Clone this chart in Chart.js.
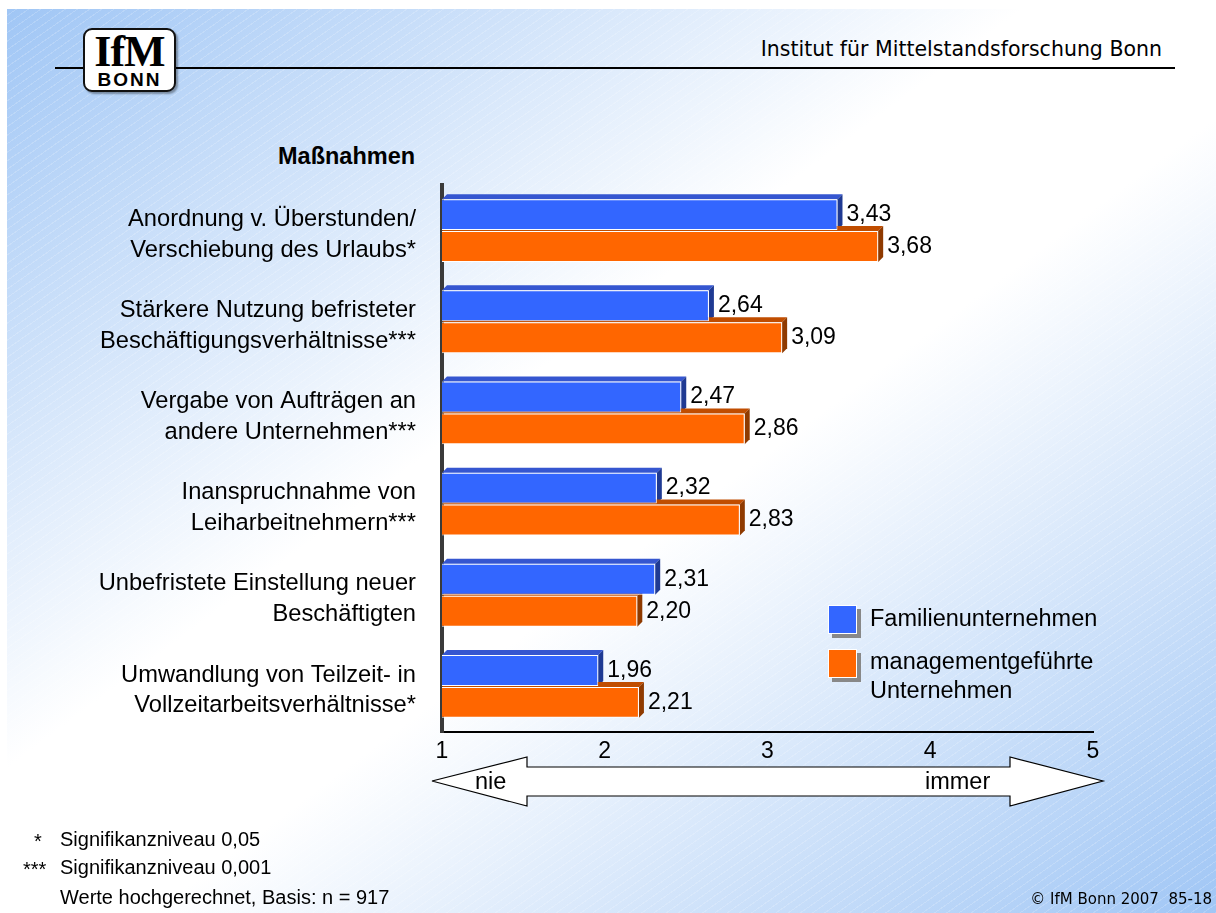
<!DOCTYPE html>
<html lang="de">
<head>
<meta charset="utf-8">
<title>Maßnahmen – Familienunternehmen vs. managementgeführte Unternehmen</title>
<script src="https://cdn.jsdelivr.net/npm/chart.js@4.4.1/dist/chart.umd.min.js"></script>
<style>
  html, body { margin: 0; padding: 0; background: #fff; }
  body { width: 1216px; height: 913px; position: relative; overflow: hidden;
         font-family: "Liberation Sans", Arial, sans-serif; color: #000; }
  #slide { position: absolute; left: 7px; top: 9px; right: 0; bottom: 0;
           background:
             repeating-linear-gradient(-35deg, rgba(255,255,255,0.18) 0 1px, rgba(255,255,255,0) 1px 7px),
             linear-gradient(to bottom right, #a0c6f5 0%, #ffffff 42%, #ffffff 56%, #a0c6f5 100%); }
  #chartBox { position: absolute; left: 0; top: 0; width: 1216px; height: 913px; }
  .abs { position: absolute; white-space: nowrap; }
  #rule { position: absolute; left: 55px; top: 67px; width: 1120px; height: 2px; background: #000; }
  #logo { position: absolute; left: 83px; top: 28px; width: 89px; height: 60px; background: #fff;
          border: 2px solid #111; border-radius: 9px; box-shadow: 2px 2px 2px rgba(0,0,0,0.35); text-align: center; }
  #logo .ifm { font-family: "Liberation Serif", "DejaVu Serif", serif; font-size: 44px; font-weight: bold;
               line-height: 38px; margin-top: 3px; letter-spacing: -1px; }
  #logo .bonn { font-family: "Liberation Sans", sans-serif; font-size: 19px; font-weight: bold; line-height: 18px; letter-spacing: 2px; }
  .verd { font-family: "DejaVu Sans", Verdana, sans-serif; }
  .sq { position: absolute; width: 27px; height: 27px; border: 1px solid #fff; box-shadow: 4px 4px 0 #888; }
  .lbl { font-size: 23.5px; }
  .note { font-size: 20px; }
</style>
</head>
<body>
<div id="slide"></div>
<div id="rule"></div>
<div id="logo"><div class="ifm">IfM</div><div class="bonn">BONN</div></div>
<div class="abs verd" style="right:54px; top:37px; font-size:20.5px;">Institut für Mittelstandsforschung Bonn</div>
<div class="abs" style="left:278px; top:143px; font-size:23.5px; font-weight:bold;">Maßnahmen</div>

<div id="chartBox"><canvas id="barChart"></canvas></div>

<svg class="abs" style="left:0; top:0;" width="1216" height="913">
  <polygon points="432,781 527,757 527,767 1010,767 1010,757 1103,781 1010,806 1010,796 527,796 527,806"
           fill="#fff" stroke="#000" stroke-width="1.2"/>
</svg>
<div class="abs lbl" style="left:475px; top:768px;">nie</div>
<div class="abs lbl" style="left:925px; top:768px;">immer</div>

<div class="sq" style="left:828px; top:605px; background:#3366ff;"></div>
<div class="abs lbl" style="left:870px; top:605px;">Familienunternehmen</div>
<div class="sq" style="left:828px; top:649px; background:#ff6600;"></div>
<div class="abs lbl" style="left:870px; top:647px; line-height:29px;">managementgeführte<br>Unternehmen</div>

<div class="abs note" style="left:34px; top:830px;">*</div>
<div class="abs note" style="left:60px; top:828px;">Signifikanzniveau 0,05</div>
<div class="abs note" style="left:23px; top:858px;">***</div>
<div class="abs note" style="left:60px; top:856px;">Signifikanzniveau 0,001</div>
<div class="abs note" style="left:60px; top:886px;">Werte hochgerechnet, Basis: n = 917</div>
<div class="abs verd" style="right:4px; top:890px; font-size:15px;">©&nbsp;IfM Bonn 2007&nbsp;&nbsp;85-18</div>

<script>
const categories = [
  ["Anordnung v. Überstunden/", "Verschiebung des Urlaubs*"],
  ["Stärkere Nutzung befristeter", "Beschäftigungsverhältnisse***"],
  ["Vergabe von Aufträgen an", "andere Unternehmen***"],
  ["Inanspruchnahme von", "Leiharbeitnehmern***"],
  ["Unbefristete Einstellung neuer", "Beschäftigten"],
  ["Umwandlung von Teilzeit- in", "Vollzeitarbeitsverhältnisse*"]
];
const familyValues = [3.43, 2.64, 2.47, 2.32, 2.31, 1.96];
const managementValues = [3.68, 3.09, 2.86, 2.83, 2.20, 2.21];
const scaleTicks = [1, 2, 3, 4, 5];

const depth = 5;
const sideColors = [
  { top: "#3556d0", side: "#1f3a93" },
  { top: "#c04d00", side: "#8f3a00" }
];
const fontFamily = '"Liberation Sans", Arial, sans-serif';

const bar3dPlugin = {
  id: "bar3d",
  beforeDatasetsDraw(chart) {
    const ctx = chart.ctx;
    chart.data.datasets.forEach((ds, i) => {
      const meta = chart.getDatasetMeta(i);
      const c = sideColors[i];
      meta.data.forEach(el => {
        const p = el.getProps(["x", "y", "base", "height"], true);
        const top = p.y - p.height / 2;
        const bottom = p.y + p.height / 2;
        ctx.save();
        ctx.fillStyle = c.top;
        ctx.beginPath();
        ctx.moveTo(p.base, top);
        ctx.lineTo(p.x, top);
        ctx.lineTo(p.x + depth, top - depth);
        ctx.lineTo(p.base + depth, top - depth);
        ctx.closePath();
        ctx.fill();
        ctx.fillStyle = c.side;
        ctx.beginPath();
        ctx.moveTo(p.x, top);
        ctx.lineTo(p.x + depth, top - depth);
        ctx.lineTo(p.x + depth, bottom - depth);
        ctx.lineTo(p.x, bottom);
        ctx.closePath();
        ctx.fill();
        ctx.restore();
      });
    });
  },
  afterDatasetsDraw(chart) {
    const ctx = chart.ctx;
    ctx.save();
    ctx.font = "23px " + fontFamily;
    ctx.fillStyle = "#000";
    ctx.textAlign = "left";
    ctx.textBaseline = "middle";
    chart.data.datasets.forEach((ds, i) => {
      const meta = chart.getDatasetMeta(i);
      meta.data.forEach((el, j) => {
        const p = el.getProps(["x", "y"], true);
        ctx.fillText(ds.data[j].toFixed(2).replace(".", ","), p.x + depth + 4, p.y);
      });
    });
    ctx.restore();
  }
};

const ctx = document.getElementById("barChart").getContext("2d");
window.barChartInstance = new Chart(ctx, {
  type: "bar",
  data: {
    labels: categories,
    datasets: [
      {
        label: "Familienunternehmen",
        data: familyValues,
        base: 1,
        backgroundColor: "#3366ff",
        borderColor: "#ffffff",
        borderWidth: 1,
        borderSkipped: "left",
        categoryPercentage: 0.7,
        barPercentage: 0.97
      },
      {
        label: "managementgeführte Unternehmen",
        data: managementValues,
        base: 1,
        backgroundColor: "#ff6600",
        borderColor: "#ffffff",
        borderWidth: 1,
        borderSkipped: "left",
        categoryPercentage: 0.7,
        barPercentage: 0.97
      }
    ]
  },
  options: {
    indexAxis: "y",
    responsive: true,
    maintainAspectRatio: false,
    animation: false,
    layout: { padding: { top: 185, right: 123, bottom: 141, left: 0 } },
    plugins: { legend: { display: false }, tooltip: { enabled: false } },
    scales: {
      x: {
        min: 1,
        max: 5,
        afterFit: scale => { scale.height = 40; },
        afterBuildTicks: scale => { scale.ticks = scaleTicks.map(v => ({ value: v })); },
        grid: { display: false, drawTicks: false },
        border: { display: true, color: "#000", width: 2 },
        ticks: {
          padding: 6,
          color: "#000",
          font: { family: fontFamily, size: 23 }
        }
      },
      y: {
        afterFit: scale => { scale.width = 442; },
        grid: { display: false, drawTicks: false },
        border: { display: true, color: "#3a3a3a", width: 4 },
        ticks: {
          padding: 26,
          labelOffset: 4,
          color: "#000",
          font: { family: fontFamily, size: 23.7, lineHeight: 1.3 }
        }
      }
    }
  },
  plugins: [bar3dPlugin]
});
</script>
</body>
</html>
